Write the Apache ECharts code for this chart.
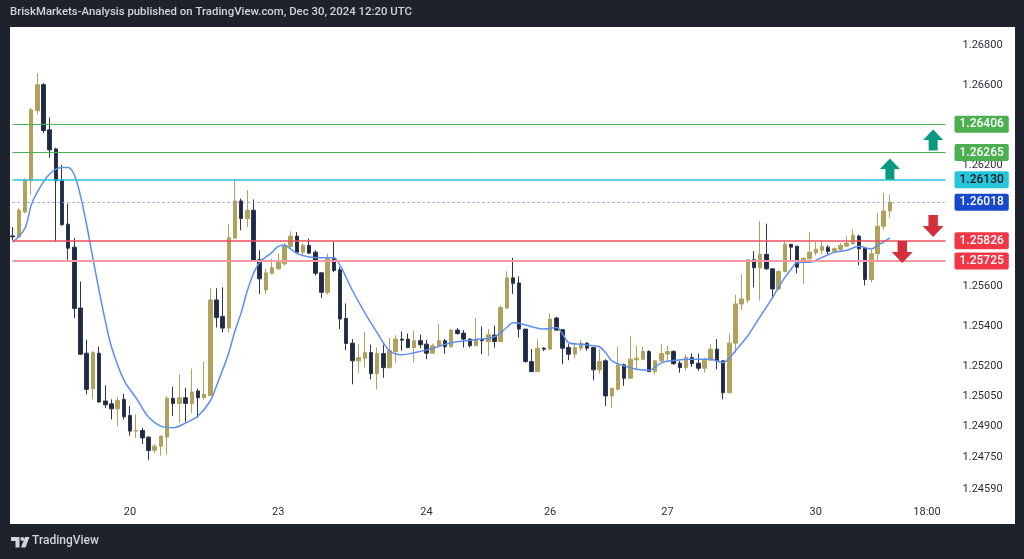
<!DOCTYPE html>
<html>
<head>
<meta charset="utf-8">
<script src="https://cdn.jsdelivr.net/npm/echarts@6/dist/echarts.min.js"></script>
<style>
html,body{margin:0;padding:0;background:#1e222d;}
#c{width:1024px;height:559px;}
</style>
</head>
<body>
<div id="c"></div>
<script>
// ---- DATA (1H candles) ----
const candleOpen = [1.25850,1.25844,1.25969,1.26124,1.26473,1.26603,1.26378,1.26283,1.26128,1.25908,
1.25794,1.25491,1.25266,1.25089,1.25266,1.25028,1.25014,1.24989,1.25036,1.24956,
1.24878,1.24881,1.24848,1.24783,1.24803,1.24849,1.25041,1.25016,1.25044,1.25016,
1.25078,1.25044,1.25056,1.25531,1.25449,1.25391,1.25839,1.26024,1.25936,1.25978,
1.25731,1.25581,1.25664,1.25686,1.25711,1.25798,1.25849,1.25769,1.25803,1.25769,
1.25666,1.25569,1.25736,1.25681,1.25439,1.25316,1.25228,1.25241,1.25269,1.25164,
1.25264,1.25194,1.25274,1.25336,1.25336,1.25294,1.25328,1.25311,1.25266,1.25303,
1.25328,1.25298,1.25381,1.25366,1.25336,1.25303,1.25336,1.25324,1.25356,1.25324,
1.25491,1.25641,1.25616,1.25386,1.25224,1.25174,1.25291,1.25286,1.25441,1.25383,
1.25294,1.25261,1.25291,1.25316,1.25294,1.25183,1.25228,1.25053,1.25086,1.25208,
1.25141,1.25233,1.25236,1.25274,1.25174,1.25228,1.25261,1.25274,1.25216,1.25194,
1.25244,1.25216,1.25191,1.25231,1.25286,1.25228,1.25069,1.25316,1.25511,1.25531,
1.25731,1.25691,1.25758,1.25686,1.25586,1.25673,1.25808,1.25799,1.25719,1.25736,
1.25766,1.25778,1.25794,1.25773,1.25783,1.25799,1.25811,1.25849,1.25789,1.25633,
1.25761,1.25898,1.25974];
const candleHigh = [1.25894,1.25988,1.26136,1.26486,1.26661,1.26611,1.26439,1.26289,1.26203,1.26011,
1.25839,1.25623,1.25333,1.25278,1.25298,1.25106,1.25036,1.25048,1.25064,1.25003,
1.24961,1.24894,1.24853,1.24814,1.24856,1.25053,1.25099,1.25161,1.25094,1.25189,
1.25089,1.25223,1.25589,1.25589,1.25594,1.25911,1.26131,1.26036,1.26078,1.26031,
1.25778,1.25686,1.25736,1.25761,1.25814,1.25873,1.25869,1.25814,1.25836,1.25778,
1.25669,1.25761,1.25819,1.25694,1.25514,1.25336,1.25311,1.25374,1.25308,1.25294,
1.25308,1.25341,1.25356,1.25374,1.25364,1.25378,1.25358,1.25333,1.25314,1.25411,
1.25336,1.25386,1.25391,1.25381,1.25341,1.25441,1.25399,1.25386,1.25403,1.25503,
1.25674,1.25741,1.25649,1.25386,1.25286,1.25336,1.25296,1.25464,1.25448,1.25383,
1.25311,1.25319,1.25331,1.25321,1.25294,1.25286,1.25236,1.25094,1.25299,1.25214,
1.25353,1.25303,1.25298,1.25281,1.25231,1.25311,1.25303,1.25281,1.25228,1.25258,
1.25264,1.25264,1.25244,1.25311,1.25336,1.25228,1.25364,1.25556,1.25661,1.25734,
1.25774,1.25924,1.25911,1.25686,1.25678,1.25823,1.25808,1.25799,1.25741,1.25869,
1.25819,1.25824,1.25803,1.25794,1.25814,1.25848,1.25881,1.25856,1.25794,1.25786,
1.25964,1.26064,1.26053];
const candleLow = [1.25828,1.25843,1.25963,1.26052,1.26456,1.26361,1.26239,1.25823,1.25900,1.25731,
1.25441,1.25258,1.25061,1.25036,1.25020,1.24994,1.24936,1.24903,1.24936,1.24856,
1.24844,1.24814,1.24733,1.24769,1.24756,1.24761,1.24953,1.24919,1.24923,1.24969,
1.24944,1.25036,1.25053,1.25394,1.25369,1.25369,1.25836,1.25878,1.25894,1.25724,
1.25561,1.25558,1.25658,1.25681,1.25703,1.25791,1.25769,1.25748,1.25761,1.25653,
1.25541,1.25558,1.25669,1.25386,1.25281,1.25111,1.25169,1.25194,1.25136,1.25086,
1.25144,1.25191,1.25219,1.25278,1.25291,1.25219,1.25291,1.25236,1.25264,1.25294,
1.25264,1.25294,1.25358,1.25294,1.25294,1.25303,1.25261,1.25253,1.25294,1.25324,
1.25486,1.25561,1.25344,1.25219,1.25174,1.25174,1.25276,1.25286,1.25378,1.25211,
1.25231,1.25239,1.25278,1.25278,1.25131,1.25164,1.25003,1.24994,1.25081,1.25103,
1.25141,1.25186,1.25231,1.25174,1.25161,1.25219,1.25228,1.25208,1.25169,1.25178,
1.25198,1.25178,1.25169,1.25228,1.25186,1.25036,1.25069,1.25269,1.25481,1.25516,
1.25594,1.25528,1.25681,1.25544,1.25581,1.25669,1.25719,1.25664,1.25611,1.25731,
1.25753,1.25758,1.25758,1.25764,1.25773,1.25794,1.25808,1.25703,1.25603,1.25619,
1.25728,1.25881,1.25941];
const candleClose = [1.25845,1.25978,1.26128,1.26478,1.26603,1.26374,1.26278,1.26124,1.25906,1.25789,
1.25489,1.25261,1.25086,1.25269,1.25023,1.25009,1.24989,1.25031,1.24949,1.24878,
1.24881,1.24844,1.24781,1.24803,1.24853,1.25041,1.25016,1.25044,1.25016,1.25073,
1.25044,1.25061,1.25531,1.25444,1.25391,1.25841,1.26024,1.25936,1.25978,1.25724,
1.25636,1.25666,1.25691,1.25719,1.25803,1.25849,1.25769,1.25803,1.25764,1.25664,
1.25569,1.25736,1.25678,1.25436,1.25314,1.25228,1.25244,1.25269,1.25164,1.25264,
1.25194,1.25278,1.25336,1.25331,1.25294,1.25328,1.25308,1.25266,1.25303,1.25328,
1.25298,1.25381,1.25364,1.25336,1.25303,1.25336,1.25328,1.25358,1.25324,1.25494,
1.25641,1.25614,1.25386,1.25224,1.25174,1.25291,1.25286,1.25436,1.25381,1.25291,
1.25261,1.25294,1.25316,1.25291,1.25183,1.25224,1.25053,1.25091,1.25208,1.25141,
1.25236,1.25241,1.25274,1.25174,1.25228,1.25264,1.25274,1.25214,1.25194,1.25244,
1.25214,1.25191,1.25231,1.25286,1.25228,1.25069,1.25316,1.25511,1.25536,1.25731,
1.25691,1.25758,1.25686,1.25586,1.25673,1.25808,1.25794,1.25694,1.25739,1.25769,
1.25784,1.25798,1.25773,1.25786,1.25803,1.25814,1.25853,1.25786,1.25633,1.25761,
1.25898,1.25974,1.26018];

// moving average line, read at selected candles
const maIdx = [0,2,3,4,6,8,9,10,11,12,13,14,15,16,18,20,22,24,26,28,30,32,33,34,35,36,37,38,39,40,42,43,44,45,46,48,50,52,53,54,55,57,59,61,63,65,68,71,75,78,80,81,82,84,86,88,89,90,92,94,95,96,97,99,101,103,105,107,110,113,115,116,117,119,121,123,125,126,127,129,131,133,135,137,139,140,141,142];
const maVal = [1.25818,1.25888,1.26003,1.26068,1.26158,1.26190,1.26190,1.26153,1.26048,1.25903,1.25738,1.25578,1.25428,1.25298,1.25133,1.25043,1.24948,1.24903,1.24895,1.24918,1.24953,1.25028,1.25103,1.25183,1.25268,1.25378,1.25468,1.25578,1.25663,1.25718,1.25768,1.25798,1.25803,1.25785,1.25763,1.25745,1.25741,1.25741,1.25703,1.25643,1.25578,1.25468,1.25368,1.25278,1.25258,1.25268,1.25290,1.25318,1.25333,1.25348,1.25394,1.25418,1.25415,1.25398,1.25386,1.25394,1.25363,1.25318,1.25310,1.25303,1.25298,1.25268,1.25228,1.25203,1.25186,1.25181,1.25218,1.25230,1.25236,1.25236,1.25219,1.25243,1.25278,1.25353,1.25448,1.25543,1.25643,1.25683,1.25718,1.25719,1.25743,1.25768,1.25778,1.25798,1.25785,1.25803,1.25820,1.25840];

// horizontal levels
const levelValues = [1.26406, 1.26265, 1.26130, 1.26018, 1.25826, 1.25725];
const levelTexts  = ['1.26406','1.26265','1.26130','1.26018','1.25826','1.25725'];

// axis ticks
const yTickValues = [1.268, 1.266, 1.262, 1.256, 1.254, 1.252, 1.2505, 1.249, 1.2475, 1.2459];
const yTickTexts  = ['1.26800','1.26600','1.26200','1.25600','1.25400','1.25200','1.25050','1.24900','1.24750','1.24590'];
const xTickIdx   = [19, 43, 67, 87, 106, 130, 148];
const xTickTexts = ['20','23','24','26','27','30','18:00'];
const slotCount = 152; // hourly slots incl. right margin

// arrows: [slot, price]
const upArrows   = [[149, 1.26327], [142, 1.26183]];
const downArrows = [[149, 1.25899], [144, 1.25770]];

// ---- BUILD ----
const categories = [];
for (let i = 0; i < slotCount; i++) categories.push(String(i));
const ohlc = candleOpen.map((o, i) => [o, candleClose[i], candleLow[i], candleHigh[i]]);
const maData = maIdx.map((ix, k) => [ix, maVal[k]]);

const levelStyles = [
  {line:{color:'#4caf50', width:1, type:'solid'}, bg:'#4caf50', fg:'#ffffff'},
  {line:{color:'#4caf50', width:1, type:'solid'}, bg:'#4caf50', fg:'#ffffff'},
  {line:{color:'#26c6da', width:1.5, type:'solid'}, bg:'#26c6da', fg:'#131722'},
  {line:{color:'#7f97e2', width:1.2, type:[2,3]}, bg:'#1848cc', fg:'#ffffff'},
  {line:{color:'#ef4f5d', width:1.5, type:'solid'}, bg:'#f23645', fg:'#ffffff'},
  {line:{color:'#f59aa2', width:2, type:'solid'}, bg:'#f23645', fg:'#ffffff'}
];
const lastSlot = slotCount - 1;
const markLineData = levelValues.map((v, k) => ([
  {
    coord: [0, v],
    lineStyle: levelStyles[k].line,
    label: {
      show: true, position: 'end', distance: 9,
      formatter: levelTexts[k],
      backgroundColor: levelStyles[k].bg, color: levelStyles[k].fg,
      padding: [3, 5, 2, 5], fontSize: 12, fontWeight: 500,
      fontFamily: 'Roboto', borderRadius: 2
    }
  },
  {coord: [lastSlot, v]}
]));

const upPath = 'path://M10 0L20 10L14.5 10L14.5 20L5.5 20L5.5 10L0 10Z';
const downPath = 'path://M5.5 0L14.5 0L14.5 10L20 10L10 20L0 10L5.5 10Z';
const markPoints = [];
upArrows.forEach(a => markPoints.push({coord: a, symbol: upPath, symbolSize: [20, 21], itemStyle: {color: '#089981'}}));
downArrows.forEach(a => markPoints.push({coord: a, symbol: downPath, symbolSize: [21, 22], itemStyle: {color: '#d32f3c'}}));

const chart = echarts.init(document.getElementById('c'), null, {renderer: 'canvas'});
chart.setOption({
  backgroundColor: '#1e222d',
  animation: false,
  textStyle: {fontFamily: 'Roboto'},
  graphic: [
    {type: 'rect', z: -10, silent: true, shape: {x: 10, y: 27, width: 1005, height: 497}, style: {fill: '#ffffff'}},
    {type: 'text', silent: true, left: 10, top: 7,
      style: {text: 'BriskMarkets-Analysis published on TradingView.com, Dec 30, 2024 12:20 UTC', fill: '#d1d4dc', font: '500 11.4px Roboto'}},
    {type: 'polygon', silent: true, shape: {points: [[11,537],[19.5,537],[19.5,547.5],[15.5,547.5],[15.5,541],[11,541]]}, style: {fill: '#d1d4dc'}},
    {type: 'circle', silent: true, shape: {cx: 22.3, cy: 539, r: 1.9}, style: {fill: '#d1d4dc'}},
    {type: 'polygon', silent: true, shape: {points: [[25,537],[29.5,537],[25.5,547.5],[21,547.5]]}, style: {fill: '#d1d4dc'}},
    {type: 'text', silent: true, left: 32, top: 535,
      style: {text: 'TradingView', fill: '#d1d4dc', font: '500 12px Roboto'}}
  ],
  grid: {left: 9.5, top: 27, width: 939.1, height: 472, containLabel: false},
  xAxis: {
    type: 'category', data: categories, boundaryGap: true,
    axisLine: {show: false}, axisTick: {show: false}, splitLine: {show: false},
    axisLabel: {
      interval: (i) => xTickIdx.indexOf(i) >= 0,
      formatter: (v, i) => { const k = xTickIdx.indexOf(i); return k >= 0 ? xTickTexts[k] : ''; },
      color: '#2a2e39', fontSize: 11, margin: 8, fontFamily: 'Roboto'
    }
  },
  yAxis: {
    type: 'value', position: 'right', scale: true,
    min: 1.24540, max: 1.26890, interval: 0.00005,
    axisLine: {show: false}, axisTick: {show: false}, splitLine: {show: false},
    axisLabel: {
      color: '#2a2e39', fontSize: 11, margin: 14, fontFamily: 'Roboto',
      formatter: (v) => {
        for (let k = 0; k < yTickValues.length; k++) if (Math.abs(v - yTickValues[k]) < 1e-8) return yTickTexts[k];
        return '';
      }
    }
  },
  series: [
    {
      type: 'candlestick', data: ohlc, barWidth: 4, z: 2,
      itemStyle: {color: '#b0a25a', color0: '#202a44', borderColor: '#b0a25a', borderColor0: '#2c3650', borderWidth: 1}
    },
    {
      type: 'line', data: maData, smooth: 0.35, showSymbol: false, silent: true,
      lineStyle: {color: '#5b8ff0', width: 1.5}, z: 3,
      markLine: {silent: true, symbol: ['none','none'], data: markLineData, animation: false},
      markPoint: {silent: true, data: markPoints, label: {show: false}, animation: false}
    }
  ]
});
</script>
</body>
</html>
